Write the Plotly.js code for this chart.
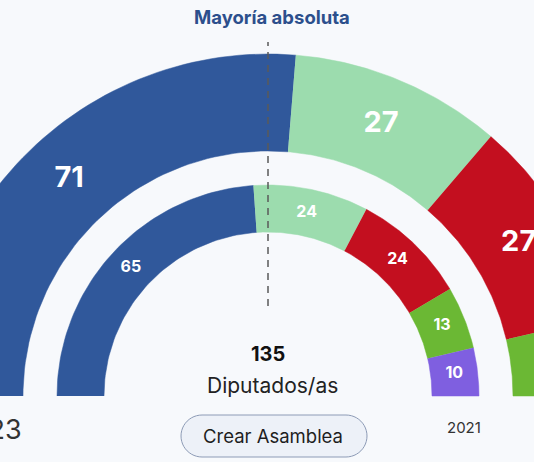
<!DOCTYPE html>
<html>
<head>
<meta charset="utf-8">
<script src="https://cdn.plot.ly/plotly-3.0.1.min.js"></script>
<style>html,body{margin:0;padding:0;background:#f7f9fc;}#chart{width:534px;height:462px;}</style>
</head>
<body>
<div id="chart"></div>
<script>
// ---- data ----
const parties2023 = ['PP', 'Más Madrid', 'PSOE', 'Vox'];
const seats2023 = [71, 27, 27, 10];
const colors2023 = ['#30589b', '#9cdcae', '#c30f1f', '#6bb834'];

const parties2021 = ['PP', 'Más Madrid', 'PSOE', 'Vox', 'Unidas Podemos'];
const seats2021 = [65, 24, 24, 13, 10];
const colors2021 = ['#30589b', '#9cdcae', '#c30f1f', '#6bb834', '#7f5fe0'];

const totalSeats = 135;
const yearLabels = ['2023', '2021'];

// ---- geometry (axis units = pixels, centre of the hemicycle at 0,0) ----
const rings = [
  {parties: parties2023, seats: seats2023, colors: colors2023, r0: 245, r1: 342, fs: 29},
  {parties: parties2021, seats: seats2021, colors: colors2021, r0: 164, r1: 211, fs: 16}
];
const FONT = 'Inter, "Open Sans", sans-serif';
const traces = [];
rings.forEach(ring => {
  const tot = ring.seats.reduce((a, b) => a + b, 0);
  let cum = 0;
  const lx = [], ly = [], lt = [];
  ring.seats.forEach((s, i) => {
    const a0 = Math.PI - cum / tot * Math.PI;
    const a1 = Math.PI - (cum + s) / tot * Math.PI;
    cum += s;
    const xs = [], ys = [];
    const n = 60;
    for (let k = 0; k <= n; k++) { const a = a0 + (a1 - a0) * k / n; xs.push(ring.r1 * Math.cos(a)); ys.push(ring.r1 * Math.sin(a)); }
    for (let k = n; k >= 0; k--) { const a = a0 + (a1 - a0) * k / n; xs.push(ring.r0 * Math.cos(a)); ys.push(ring.r0 * Math.sin(a)); }
    traces.push({type: 'scatter', x: xs, y: ys, mode: 'lines', fill: 'toself', fillcolor: ring.colors[i],
      line: {width: 0.5, color: ring.colors[i]}, name: ring.parties[i], hoverinfo: 'name', showlegend: false});
    const am = (a0 + a1) / 2, rm = (ring.r0 + ring.r1) / 2;
    lx.push(rm * Math.cos(am)); ly.push(rm * Math.sin(am)); lt.push(String(s));
  });
  traces.push({type: 'scatter', x: lx, y: ly, text: lt, mode: 'text', hoverinfo: 'skip', showlegend: false,
    textfont: {family: FONT, size: ring.fs, color: '#ffffff', weight: 700}, cliponaxis: false});
});
// absolute majority line
traces.push({type: 'scatter', x: [0, 0], y: [90, 354], mode: 'lines', hoverinfo: 'skip', showlegend: false,
  line: {color: '#5a5a5a', width: 1.5, dash: '7px,6px'}});

// pill-shaped button path (polygon approximation of rounded ends)
function pill(x0, x1, y0, y1) {
  const r = (y1 - y0) / 2, cy = (y0 + y1) / 2;
  const pts = [];
  const n = 24;
  for (let k = 0; k <= n; k++) { const a = -Math.PI / 2 + Math.PI * k / n; pts.push([x1 - r + r * Math.cos(a), cy + r * Math.sin(a)]); }
  for (let k = 0; k <= n; k++) { const a = Math.PI / 2 + Math.PI * k / n; pts.push([x0 + r + r * Math.cos(a), cy + r * Math.sin(a)]); }
  return 'M ' + pts.map(p => p[0].toFixed(2) + ',' + p[1].toFixed(2)).join(' L ') + ' Z';
}

const layout = {
  width: 534, height: 462,
  margin: {l: 0, r: 0, t: 0, b: 0},
  paper_bgcolor: '#f7f9fc', plot_bgcolor: '#f7f9fc',
  xaxis: {range: [-268, 266], visible: false, fixedrange: true},
  yaxis: {range: [-66, 396], visible: false, fixedrange: true},
  showlegend: false,
  shapes: [
    {type: 'path', xref: 'x', yref: 'y', path: pill(-87, 99, -61, -19), fillcolor: '#edf1f8', line: {color: '#8d9bb6', width: 1}}
  ],
  annotations: [
    {x: 4, y: 379, xref: 'x', yref: 'y', text: 'Mayoría absoluta', showarrow: false,
      font: {family: FONT, size: 18.5, color: '#2c4f8c', weight: 700}},
    {x: 0, y: 42, xref: 'x', yref: 'y', text: String(totalSeats), showarrow: false,
      font: {family: FONT, size: 20, color: '#111111', weight: 700}},
    {x: 4, y: 11, xref: 'x', yref: 'y', text: 'Diputados/as', showarrow: false,
      font: {family: FONT, size: 21, color: '#222222'}},
    {x: 5, y: -40, xref: 'x', yref: 'y', text: 'Crear Asamblea', showarrow: false,
      font: {family: FONT, size: 18.5, color: '#1e1e1e'}},
    {x: -244, y: -33, xref: 'x', yref: 'y', xanchor: 'right', text: yearLabels[0], showarrow: false,
      font: {family: FONT, size: 27, color: '#333333'}},
    {x: 196, y: -31, xref: 'x', yref: 'y', text: yearLabels[1], showarrow: false,
      font: {family: FONT, size: 15, color: '#333333'}}
  ]
};
Plotly.newPlot('chart', traces, layout, {displayModeBar: false, staticPlot: true});
</script>
</body>
</html>
